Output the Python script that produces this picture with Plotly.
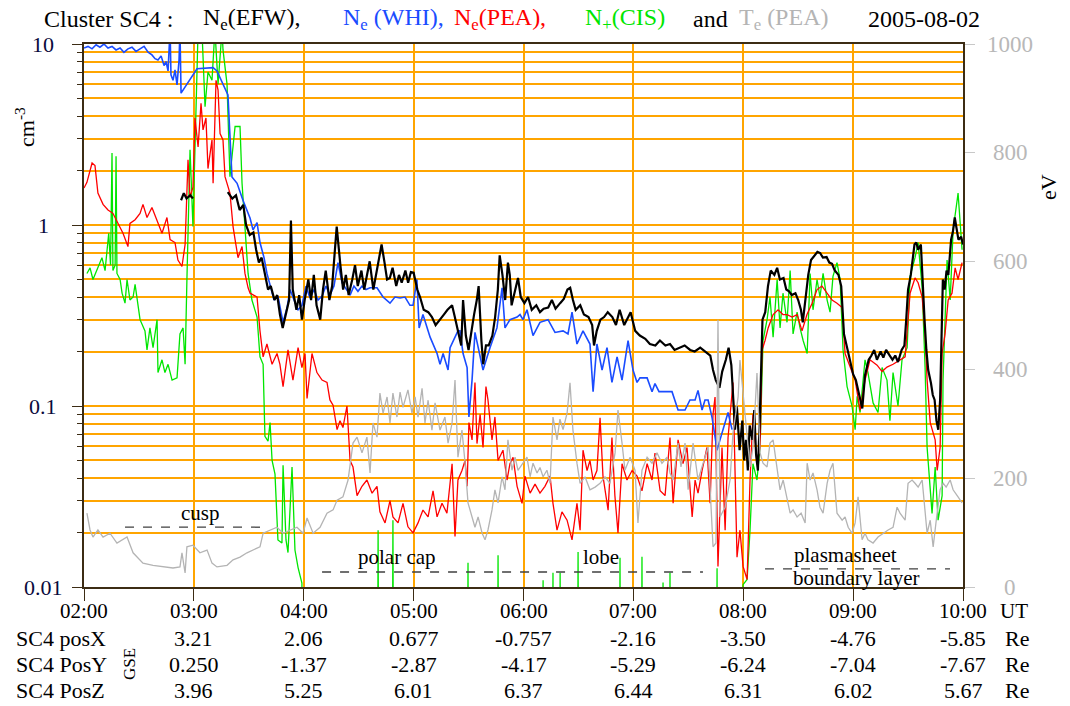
import numpy as np
import pandas as pd
import plotly.graph_objects as go

# Cluster SC4 densities and temperature, 2005-08-02, 02:00-10:00 UT
BASE = pd.Timestamp("2005-08-02 02:00")

COLOR_EFW = "#000000"
COLOR_WHI = "#1a4cff"
COLOR_PEA = "#ff0000"
COLOR_CIS = "#00e600"
COLOR_TE = "#b4b4b4"
COLOR_GRID = "#ffa500"
COLOR_AXIS = "#3c2c14"
FONT = "Liberation Serif, Times New Roman, serif"

# ---- data (time = minutes after 02:00 UT) ----
EFW_MIN = [53, 54.5, 56, 58, 59.5, 70, 78.5, 81, 83, 85, 87, 88.5, 90.5, 92.5, 94, 95.5, 97, 99, 100.5, 102,
           104, 105.5, 107, 108.5, 110.5, 112, 113, 114, 116, 117.5, 119, 120.5, 122.5, 124, 125.5, 127, 129,
           130.5, 132, 134, 135.5, 137, 138, 140, 141.5, 143, 144.5, 146.5, 148, 149.5, 151.5, 153, 154.5, 156,
           158, 159.5, 161, 162.5, 164, 165.5, 167, 168.5, 170.5, 172, 173.5, 175.5, 177, 178.5, 180, 182,
           183.5, 185.5, 188, 190, 192, 194.5, 196.5, 198.5, 201, 202.5, 204, 206, 207, 208.5, 210, 211.5, 213,
           214.5, 215.5, 217, 218, 219.5, 221, 223, 224.5, 226, 227, 228.5, 230, 231.5, 232.5, 233.5, 235.5,
           237, 238.5, 240.5, 242.5, 244.5, 247, 249, 251, 253.5, 255.5, 257.5, 260, 262, 264, 265.5, 267,
           268.5, 271, 273, 275.5, 277.5, 278.5, 280, 282, 284, 286, 288.5, 290.5, 292.5, 295, 297, 298.5, 301,
           303.5, 306.5, 309, 312, 314.5, 317.5, 320, 322.5, 325.5, 328, 331, 333.5, 336.5, 339, 342, 343.5,
           345, 347, 348.5, 350.5, 352, 353.5, 354.5, 355.5, 356.5, 358, 359.5, 360.5, 361.5, 362.5, 363.5, 365,
           366, 367, 368, 369, 370.5, 372, 373.5, 375, 377, 378.5, 380, 382, 383.5, 385, 386.5, 388.5, 390,
           391.5, 392.5, 394.5, 395.5, 397, 399, 400.5, 402, 403.5, 405.5, 407, 408.5, 410, 412, 413.5, 415,
           417, 418.5, 420, 421.5, 423.5, 425, 426.5, 428.5, 430, 431.5, 433, 435, 436.5, 438, 440, 441.5, 443,
           444.5, 446.5, 448, 449, 450, 451.5, 452.5, 453.5, 454.5, 455.5, 457, 458, 459, 460, 461, 462.5,
           463.5, 464.5, 465.5, 466.5, 467.5, 469, 470, 471, 472, 473.5, 474.5, 475.5, 476.5, 477.5, 479, 480]
EFW_NE = [1.37, 1.5, 1.4, 1.46, 1.4, None, 1.52, 1.4, 1.46, 1.21, 1.29, 1.0, 0.88, 0.91, 0.73, 0.62, 0.66, 0.53,
          0.44, 0.46, 0.385, 0.41, 0.32, 0.27, 0.33, 0.385, 1.06, 0.44, 0.34, 0.41, 0.30, 0.385, 0.5, 0.385, 0.53,
          0.36, 0.30, 0.44, 0.56, 0.385, 0.46, 0.73, 0.98, 0.6, 0.44, 0.53, 0.41, 0.5, 0.6, 0.46, 0.56, 0.44,
          0.53, 0.63, 0.44, 0.53, 0.63, 0.78, 0.63, 0.5, 0.51, 0.58, 0.46, 0.53, 0.48, 0.56, 0.48, 0.55, 0.545,
          0.44, 0.4, 0.34, 0.33, 0.31, 0.28, 0.30, 0.32, 0.34, 0.36, 0.31, 0.26, 0.216, 0.385, 0.245, 0.204,
          0.26, 0.32, 0.385, 0.46, 0.23, 0.17, 0.216, 0.216, 0.245, 0.31, 0.44, 0.68, 0.53, 0.385, 0.62, 0.53,
          0.36, 0.44, 0.51, 0.4, 0.37, 0.4, 0.34, 0.36, 0.33, 0.345, 0.35, 0.385, 0.345, 0.37, 0.39, 0.44, 0.45,
          0.385, 0.34, 0.36, 0.32, 0.31, 0.28, 0.216, 0.26, 0.30, 0.31, 0.33, 0.31, 0.28, 0.34, 0.28, 0.31, 0.33,
          0.26, 0.245, 0.235, 0.22, 0.216, 0.23, 0.216, 0.22, 0.204, 0.21, 0.216, 0.204, 0.2, 0.21, 0.2, 0.19,
          0.158, 0.139, 0.126, 0.155, 0.18, 0.21, 0.168, 0.108, 0.074, 0.1, 0.057, 0.083, 0.05, 0.065, 0.044,
          0.078, 0.065, 0.095, 0.054, 0.044, 0.083, 0.30, 0.33, 0.46, 0.56, 0.53, 0.58, 0.5, 0.51, 0.44, 0.43,
          0.41, 0.42, 0.385, 0.34, 0.29, 0.44, 0.53, 0.64, 0.68, 0.71, 0.7, 0.66, 0.665, 0.62, 0.61, 0.56, 0.53,
          0.46, 0.25, 0.204, 0.175, 0.15, 0.139, 0.115, 0.097, 0.148, 0.18, 0.19, 0.204, 0.18, 0.2, 0.185, 0.204,
          0.19, 0.18, 0.19, 0.175, 0.204, 0.216, 0.30, 0.44, 0.53, 0.64, 0.78, 0.8, 0.73, 0.78, 0.46, 0.30,
          0.204, 0.158, 0.134, 0.115, 0.108, 0.083, 0.074, 0.108, 0.5, 0.44, 0.56, 0.53, 0.83, 0.92, 1.1, 0.94,
          0.83, 0.86, 0.78]

WHI_MIN = [0, 2.2, 4.4, 6.6, 8.7, 10.9, 13.1, 15.3, 17.5, 19.7, 21.8, 24, 26.2, 28.4, 30.6, 32.8, 35, 37.1,
           38.8, 40.4, 42.1, 43.7, 44.8, 45.9, 47, 47.5, 48.6, 49.7, 50.8, 51.9, 52.4, 53, 61.7, 70.5, 72.6,
           78.6, 80.8, 83.6, 86.8, 90.7, 92.3, 94.5, 96.1, 98.3, 99.9, 101.6, 103.8, 105.9, 108.7, 110.9, 112.5,
           114.7, 116.9, 119, 121.2, 123.4, 125.6, 127.8, 130, 132.1, 134.3, 136.5, 138.7, 140.9, 143.1, 145.3,
           147.4, 149.6, 151.8, 154, 156.2, 160, 163.3, 167.1, 169.8, 172.6, 175.3, 178, 179.7, 181.8, 183,
           185.1, 189, 192.8, 194.4, 196.1, 198.8, 199.9, 204.2, 205.3, 207, 209.2, 210.2, 211.9, 213.5, 217.9,
           221.7, 225.5, 228.3, 229.9, 232.6, 236.5, 238.1, 239.7, 241.9, 245.2, 249, 253.4, 257.2, 261.6,
           264.3, 266.5, 269.2, 272.5, 276.3, 278, 280.1, 282.9, 285.6, 288.3, 291.1, 293.8, 297.1, 299.8, 302,
           303.6, 307.5, 310.2, 311.8, 314, 315.6, 318.4, 321.1, 324.4, 328.2, 330.9, 333.7, 335.3, 337.5,
           339.1, 340.8, 343, 345.7, 347.3, 350.1, 351.7, 353.9]
WHI_NE = [9.5, 9.7, 9.4, 9.9, 9.6, 10, 9.5, 9.7, 9.27, 9.5, 9.0, 9.4, 9.6, 9.1, 9.4, 9.7, 9.0, 8.7, 8.3, 8.16,
          8.6, 7.6, 8.0, 7.1, 12, 6.75, 6.3, 7.2, 5.94, 8.16, 12, 5.35, 7.3, 7.4, 7.1, 5.23, 1.84, 1.7, 1.37,
          1.09, 0.94, 1.03, 0.8, 0.66, 0.54, 0.46, 0.385, 0.405, 0.29, 0.35, 0.44, 0.385, 0.34, 0.36, 0.46,
          0.395, 0.44, 0.385, 0.405, 0.46, 0.41, 0.46, 0.62, 0.48, 0.44, 0.41, 0.46, 0.43, 0.46, 0.44, 0.45,
          0.45, 0.4, 0.37, 0.4, 0.395, 0.4, 0.36, 0.36, 0.5, 0.27, 0.32, 0.24, 0.195, 0.17, 0.195, 0.158, 0.21,
          0.26, 0.26, 0.195, 0.163, 0.087, 0.139, 0.255, 0.158, 0.21, 0.27, 0.45, 0.27, 0.3, 0.31, 0.32, 0.3,
          0.34, 0.245, 0.29, 0.3, 0.255, 0.26, 0.25, 0.33, 0.22, 0.26, 0.22, 0.12, 0.22, 0.158, 0.21, 0.135,
          0.187, 0.139, 0.23, 0.158, 0.135, 0.143, 0.143, 0.12, 0.133, 0.12, 0.12, 0.12, 0.12, 0.095, 0.095,
          0.108, 0.108, 0.122, 0.095, 0.108, 0.108, 0.086, 0.057, 0.065, 0.083, 0.092, 0.074]

PEA_MIN = [0, 1.6, 4.4, 6, 7.6, 10.4, 13.1, 15.8, 18.6, 21.3, 24, 25.1, 27.9, 30.6, 32.2, 34.4, 37.1, 39.9,
           42.6, 45.3, 47, 49.7, 51.3, 53.5, 55.2, 56.8, 57.9, 59.5, 60.6, 62.3, 63.9, 65, 66.6, 67.7, 69.9,
           70.5, 72.1, 73.2, 74.3, 75.9, 77, 79.7, 81.4, 82.5, 84.1, 86.3, 87.9, 89.6, 90.7, 94.5, 96.1, 97.8,
           99.9, 102.7, 105.4, 107, 108.7, 111.4, 114.1, 116.9, 119, 120.7, 121.8, 124.5, 127.2, 130, 132.7,
           134.3, 136, 138.2, 139.8, 141.4, 143.6, 145.3, 146.9, 149.1, 151.8, 154.5, 157.3, 160, 161.6, 164.4,
           167.1, 168.7, 171.5, 174.2, 176.9, 179.7, 182.4, 185.1, 187.9, 190.6, 192.8, 195.5, 198.2, 201,
           202.6, 204.2, 206.4, 208.1, 209.2, 210.2, 211.9, 213.5, 214.6, 216.3, 217.9, 219.5, 220.6, 222.8,
           224.4, 226.1, 228.8, 231, 232.6, 234.3, 236.5, 239.2, 240.8, 243.6, 246.3, 249, 251.7, 254.5, 256.1,
           258.3, 261, 263.8, 266.5, 269.2, 270.9, 272.5, 274.7, 276.3, 278, 280.1, 281.8, 283.4, 286.2, 288.3,
           289.9, 291.6, 293.8, 296.5, 299.3, 302, 304.7, 307.5, 310.2, 311.8, 314.6, 317.3, 320, 321.7, 324.4,
           327.1, 329.3, 332.1, 333.7, 335.3, 337.5, 340.2, 341.9, 343.5, 344.6, 346.2, 348.4, 350.1, 351.7,
           354.4, 356.6, 358.2, 359.9, 362.1, 363.7, 365.3, 367.5, 369.2, 370.3, 371.9, 373.6, 376.3, 379,
           381.7, 383.9, 386.7, 389.4, 392.1, 394.8, 397.6, 400.3, 403, 405.8, 408.5, 411.2, 414, 415.6, 418.3,
           421.1, 423.8, 426.5, 429.2, 433.1, 435.8, 438.5, 441.8, 445.6, 448.4, 451.1, 453.8, 455.5, 457.7,
           459.3, 460.4, 462.1, 464.8, 465.9, 467.5, 468.6, 470.2, 471.9, 474, 475.7, 477.3, 479.5]
PEA_NE = [1.6, 1.72, 2.2, 2.13, 1.5, 1.3, 1.21, 1.16, 1.02, 0.9, 0.76, 1.02, 1.07, 1.16, 1.3, 1.1, 1.25, 1.07,
          0.9, 1.1, 0.83, 0.8, 0.64, 0.59, 0.78, 2.29, 1.42, 1.62, 3.9, 2.7, 4.7, 3.35, 3.9, 2.05, 2.95, 1.7,
          6.3, 5.57, 3.2, 2.95, 1.85, 1.5, 0.98, 0.83, 0.66, 0.76, 0.54, 0.45, 0.42, 0.4, 0.26, 0.187, 0.22,
          0.17, 0.195, 0.17, 0.128, 0.204, 0.139, 0.21, 0.163, 0.195, 0.11, 0.195, 0.153, 0.139, 0.135, 0.108,
          0.101, 0.074, 0.083, 0.076, 0.1, 0.05, 0.046, 0.032, 0.036, 0.039, 0.033, 0.036, 0.026, 0.0226, 0.03,
          0.0244, 0.0226, 0.029, 0.0215, 0.0199, 0.0226, 0.0266, 0.0244, 0.034, 0.0244, 0.029, 0.0256, 0.048,
          0.019, 0.039, 0.044, 0.05, 0.036, 0.081, 0.065, 0.135, 0.062, 0.09, 0.059, 0.128, 0.108, 0.065, 0.087,
          0.05, 0.057, 0.039, 0.048, 0.052, 0.036, 0.029, 0.041, 0.033, 0.037, 0.033, 0.036, 0.041, 0.029,
          0.0206, 0.026, 0.0234, 0.0182, 0.029, 0.0206, 0.057, 0.044, 0.05, 0.039, 0.044, 0.086, 0.041, 0.0266,
          0.067, 0.032, 0.0199, 0.048, 0.039, 0.044, 0.041, 0.034, 0.048, 0.039, 0.055, 0.034, 0.032, 0.067,
          0.029, 0.065, 0.048, 0.059, 0.0244, 0.039, 0.033, 0.044, 0.059, 0.029, 0.09, 0.112, 0.013, 0.059,
          0.0206, 0.067, 0.135, 0.0146, 0.0206, 0.013, 0.011, 0.039, 0.09, 0.048, 0.059, 0.204, 0.23, 0.27,
          0.32, 0.34, 0.32, 0.32, 0.31, 0.32, 0.26, 0.32, 0.37, 0.44, 0.46, 0.42, 0.385, 0.37, 0.35, 0.195,
          0.164, 0.139, 0.095, 0.139, 0.18, 0.168, 0.155, 0.164, 0.17, 0.18, 0.187, 0.42, 0.51, 0.48, 0.4, 0.25,
          0.139, 0.081, 0.065, 0.044, 0.059, 0.195, 0.25, 0.385, 0.42, 0.58, 0.5, 0.62]

# 0.001 = below the axis floor (no ions counted)
CIS_MIN = [1.6, 3.3, 4.9, 7.6, 9.8, 11.5, 13.5, 14.5, 15.3, 15.8, 17, 17.5, 18, 19.7, 20.8, 22.4, 23.5, 25.1,
           26.8, 27.9, 30.6, 33.3, 34.4, 36, 37.7, 39.9, 40.4, 42.6, 44.2, 45.9, 48.1, 50.8, 52.4, 54.1, 55.2,
           56.2, 57.9, 59.5, 61.7, 62.3, 64.4, 66.1, 67.7, 69.9, 71.5, 73.2, 75.4, 75.9, 78.1, 79.7, 82.5, 85.2,
           86.3, 87.9, 89.6, 91.7, 94.5, 96.1, 97.8, 98.8, 100.5, 101.6, 102.7, 104.3, 105.9, 108.1, 108.7,
           110.3, 111.4, 113.6, 115.2, 116.9, 119, 119.6,
           160.2, 160.6, 161, 168.3, 168.7, 169.1, 209.3, 209.7, 210.1, 225.7, 226.1, 226.5, 250.3, 250.7,
           251.1, 255.7, 256.1, 256.5, 259.6, 260, 260.4, 269.4, 269.8, 270.2, 292.3, 292.7, 293.1, 304.3,
           304.7, 305.1, 315.8, 316.2, 316.6, 319.6, 320, 320.4, 345.3, 345.7, 346.1,
           358.2, 359.9, 362.1, 363.7, 365.3, 367.5, 369.2, 370.3, 370.8, 373, 374.6, 376.3, 378.5, 380.1,
           381.7, 383.9, 385.6, 387.2, 389.4, 391, 392.7, 394.9, 396.5, 398.1, 400.3, 401.9, 403.6, 405.8,
           407.4, 409, 411.2, 412.9, 414.5, 416.7, 419.4, 421.1, 422.2, 423.8, 426.5, 428.1, 430.9, 433.6,
           435.8, 438.5, 440.1, 441.8, 444.5, 446.7, 449.5, 451.1, 453.8, 455.5, 457.7, 459.3, 460.4, 463.1,
           464.8, 466.4, 468.6, 469.1, 471.3, 473, 474.6, 476.8, 477.3, 479.5]
CIS_NP = [0.54, 0.58, 0.5, 0.59, 0.66, 0.56, 0.9, 0.6, 2.5, 0.56, 0.6, 2.4, 0.54, 0.5, 0.42, 0.37, 0.5, 0.385,
          0.4, 0.47, 0.3, 0.26, 0.204, 0.27, 0.21, 0.3, 0.153, 0.18, 0.153, 0.17, 0.139, 0.143, 0.25, 0.27, 0.17,
          0.5, 2.6, 0.98, 8.2, 12, 12, 4.5, 7, 6.3, 12, 6.0, 12, 9.3, 6.0, 1.85, 3.5, 3.5, 1.7, 1.02, 0.54,
          0.385, 0.31, 0.187, 0.17, 0.068, 0.064, 0.081, 0.05, 0.042, 0.0182, 0.0175, 0.047, 0.0182, 0.0155,
          0.046, 0.016, 0.0128, 0.0105, 0.001,
          0.001, 0.0206, 0.001, 0.001, 0.0234, 0.001, 0.001, 0.0136, 0.001, 0.001, 0.015, 0.001, 0.001, 0.0109,
          0.001, 0.001, 0.012, 0.001, 0.001, 0.012, 0.001, 0.001, 0.0156, 0.001, 0.001, 0.0145, 0.001, 0.001,
          0.0147, 0.001, 0.001, 0.0106, 0.001, 0.001, 0.012, 0.001, 0.001, 0.0127, 0.001,
          0.001, 0.0103, 0.011, 0.0206, 0.048, 0.039, 0.06, 0.195, 0.23, 0.3, 0.4, 0.24, 0.5, 0.27, 0.42, 0.29,
          0.56, 0.25, 0.33, 0.27, 0.23, 0.195, 0.54, 0.34, 0.5, 0.4, 0.54, 0.385, 0.33, 0.52, 0.62, 0.5, 0.204,
          0.128, 0.1, 0.074, 0.113, 0.092, 0.18, 0.153, 0.104, 0.092, 0.163, 0.139, 0.083, 0.153, 0.1, 0.18,
          0.21, 0.52, 0.66, 0.8, 0.45, 0.163, 0.059, 0.0255, 0.046, 0.0234, 0.032, 0.139, 0.64, 0.385, 0.94,
          1.37, 1.5, 0.73]

TE_MIN = [1.6, 3.3, 4.9, 7.6, 10.4, 14.2, 18, 23.5, 26.8, 32.2, 37.7, 43.1, 48.6, 52.4, 53.5, 55.2, 56.2, 59.5,
          63.3, 67.2, 69.9, 72.6, 78.1, 81.4, 85.2, 89, 92.3, 96.1, 97.8, 101.6, 105.4, 108.7, 112.5, 116.3,
          119.6, 121.8, 125.1, 128.9, 132.7, 136, 138.2, 141.4, 144.2, 146.9, 149.1, 151.8, 154.5, 156.2,
          157.8, 160, 161.6, 163.3, 165.5, 167.1, 168.7, 170.9, 172.6, 174.2, 176.9, 179.1, 180.8, 182.4,
          184.6, 186.2, 187.9, 190, 191.7, 194.4, 197.1, 198.8, 201, 202.6, 204.2, 206.4, 208.1, 209.7, 211.9,
          213.5, 215.2, 217.4, 219, 220.6, 222.8, 224.4, 226.1, 228.3, 229.9, 231.5, 233.7, 235.4, 237, 239.7,
          241.9, 243.6, 245.2, 247.4, 249, 250.7, 252.8, 254.5, 256.1, 258.3, 259.9, 261.6, 263.8, 265.4, 267,
          269.2, 270.9, 273.6, 276.3, 279.1, 281.8, 284.5, 287.2, 290, 291.6, 293.8, 295.4, 298.2, 300.9,
          302.5, 304.7, 307.5, 310.2, 312.9, 315.6, 318.4, 320, 321.7, 324.4, 326, 328.2, 329.9, 332.6, 335.3,
          338, 340.8, 343.5, 345.1, 346.2, 347.3, 350.1, 352.8, 354.4, 357.2, 358.2, 359.3, 361, 363.7, 365.3,
          367.5, 369.2, 370.8, 373, 374.6, 376.3, 378.5, 380.1, 381.8, 383.9, 385.6, 387.2, 389.4, 391.6,
          393.8, 394.9, 396.5, 398.1, 400.3, 401.9, 403.6, 405.8, 407.4, 409, 410.1, 411.2, 414, 415.6, 417.3,
          419.4, 421.1, 422.7, 424.9, 426.5, 428.1, 430.9, 433.6, 436.4, 439.1, 441.8, 444, 445.6, 448.4, 450,
          452.2, 453.8, 455.5, 457.7, 459.3, 460.4, 462.1, 463.7, 465.4, 467.5, 469.2, 470.8, 473, 474.6,
          477.3, 479.5]
TE_EV = [136, 105, 92, 105, 92, 99, 81, 92, 63, 44, 40, 37, 35, 37, 63, 26, 74, 77, 63, 68, 44, 37, 40, 50, 55,
         63, 68, 74, 99, 105, 110, 99, 105, 110, 99, 127, 99, 110, 136, 142, 160, 166, 197, 265, 276, 247, 276,
         210, 302, 276, 357, 320, 350, 302, 357, 313, 359, 331, 363, 320, 350, 313, 366, 302, 344, 289, 339,
         289, 313, 265, 302, 381, 239, 289, 228, 155, 129, 110, 129, 99, 87, 105, 142, 179, 155, 203, 179, 271,
         215, 239, 215, 228, 239, 203, 228, 210, 220, 203, 215, 191, 313, 271, 309, 290, 320, 376, 289, 228,
         191, 203, 179, 184, 191, 203, 191, 247, 326, 265, 215, 239, 215, 118, 215, 239, 228, 247, 228, 239,
         210, 197, 265, 221, 265, 179, 265, 197, 228, 258, 74, 81, 492, 129, 147, 197, 284, 350, 418, 381, 320,
         221, 258, 394, 247, 228, 221, 265, 271, 221, 179, 197, 160, 136, 142, 129, 136, 118, 228, 197, 210,
         179, 147, 136, 191, 215, 228, 184, 136, 123, 129, 110, 99, 118, 166, 87, 99, 87, 81, 92, 99, 105, 110,
         147, 136, 123, 191, 197, 191, 184, 197, 136, 99, 123, 74, 123, 179, 191, 184, 197, 179, 166, 155]

# region labels: (text lines, start min, end min, dash level, label centre min, label level)
REGIONS = [
    (["cusp"], 22.4, 99.9, 0.0214, [63.4], [0.0256]),
    (["polar cap", "lobe"], 130, 338, 0.0121, [171, 282.3], [0.0147, 0.0147]),
    (["plasmasheet", "boundary layer"], 371.9, 472.9, 0.0126, [415.6, 422], [0.0150, 0.0112]),
]

HOURS = list(range(2, 11))
HOUR_LABELS = ["02:00", "03:00", "04:00", "05:00", "06:00", "07:00", "08:00", "09:00", "10:00"]
POS_ROWS = ["SC4 posX", "SC4 PosY", "SC4 PosZ"]
POS_X = ["3.21", "2.06", "0.677", "-0.757", "-2.16", "-3.50", "-4.76", "-5.85"]
POS_Y = ["0.250", "-1.37", "-2.87", "-4.17", "-5.29", "-6.24", "-7.04", "-7.67"]
POS_Z = ["3.96", "5.25", "6.01", "6.37", "6.44", "6.31", "6.02", "5.67"]

NE_MAJOR = [0.01, 0.1, 1, 10]
NE_MAJOR_TEXT = ["0.01", "0.1", "1", "10"]
TE_TICKS = [0, 200, 400, 600, 800, 1000]


def to_time(minutes):
    return BASE + pd.to_timedelta(minutes, unit="min")


def px_x(px):
    # pixel -> paper x (plot area spans 84..963)
    return (px - 84) / 879


def px_y(py):
    # pixel -> paper y (plot area spans 44..587)
    return (587 - py) / 543


def text(fig, x, y, s, size, color="black", xref="paper", yref="paper", xanchor="center", angle=0):
    fig.add_annotation(x=x, y=y, xref=xref, yref=yref, text=s, showarrow=False,
                       xanchor=xanchor, yanchor="middle", textangle=angle,
                       font=dict(size=size, color=color, family=FONT))


fig = go.Figure()

fig.add_trace(go.Scatter(x=to_time(TE_MIN), y=TE_EV, yaxis="y2", mode="lines",
                         line=dict(color=COLOR_TE, width=1.3)))
fig.add_trace(go.Scatter(x=to_time(CIS_MIN), y=CIS_NP, mode="lines",
                         line=dict(color=COLOR_CIS, width=1.3)))
fig.add_trace(go.Scatter(x=to_time(PEA_MIN), y=PEA_NE, mode="lines",
                         line=dict(color=COLOR_PEA, width=1.3)))
fig.add_trace(go.Scatter(x=to_time(WHI_MIN), y=WHI_NE, mode="lines",
                         line=dict(color=COLOR_WHI, width=1.6)))
fig.add_trace(go.Scatter(x=to_time(EFW_MIN), y=EFW_NE, mode="lines",
                         line=dict(color=COLOR_EFW, width=2.2)))

# region markers: dashed bars with labels
for texts, t0, t1, level, tx, ty in REGIONS:
    fig.add_trace(go.Scatter(x=to_time([t0, t1]), y=[level, level], mode="lines",
                             line=dict(color="#404040", width=1.3, dash="dash")))
    for txt, m, lv in zip(texts, tx, ty):
        text(fig, to_time(m), np.log10(lv), txt, 21, xref="x", yref="y")

# title pieces
title_parts = [
    ("Cluster SC4 :", 42, "black"),
    ("N<sub>e</sub>(EFW),", 201, "black"),
    ("N<sub>e</sub> (WHI),", 341, COLOR_WHI),
    ("N<sub>e</sub>(PEA),", 452, COLOR_PEA),
    ("N<sub>+</sub>(CIS)", 583, COLOR_CIS),
    ("and", 691, "black"),
    ("T<sub>e</sub> (PEA)", 737, COLOR_TE),
    ("2005-08-02", 866, "black"),
]
for txt, px, col in title_parts:
    text(fig, px_x(px), px_y(19), txt, 24, color=col, xanchor="left")

# centred tick labels on both vertical axes
for v, t in zip(NE_MAJOR, NE_MAJOR_TEXT):
    text(fig, px_x(43), np.log10(v), t, 22, color="#0a0a3c", yref="y")
for v in TE_TICKS:
    text(fig, px_x(1010), v, str(v), 23, color="#b8b8b8", yref="y2")

text(fig, px_x(25), px_y(127), "cm<sup>-3</sup>", 22, angle=-90)
text(fig, px_x(1048), px_y(187), "eV", 22, angle=-90)

# time labels and the spacecraft position table under the axis
for h, lab in zip(HOURS, HOUR_LABELS):
    text(fig, BASE + pd.Timedelta(hours=h - 2), px_y(611), lab, 21, xref="x")
text(fig, px_x(998), px_y(611), "UT", 21, xanchor="left")

row_y = [px_y(638), px_y(664), px_y(690)]
for name, vals, ry in zip(POS_ROWS, [POS_X, POS_Y, POS_Z], row_y):
    text(fig, px_x(14), ry, name, 22, xanchor="left")
    for h, val in zip(HOURS[1:], vals):
        text(fig, BASE + pd.Timedelta(hours=h - 2), ry, val, 22, xref="x")
    text(fig, px_x(1003), ry, "Re", 22, xanchor="left")
text(fig, px_x(129), px_y(664), "GSE", 17, angle=-90)

minor_vals = [m * d for d in [0.01, 0.1, 1] for m in range(2, 10)]

fig.update_layout(
    width=1070, height=706,
    margin=dict(l=84, r=107, t=44, b=119),
    paper_bgcolor="white", plot_bgcolor="white",
    showlegend=False,
    font=dict(family=FONT, color="black"),
    xaxis=dict(
        type="date",
        range=[BASE, BASE + pd.Timedelta(hours=8)],
        tickvals=[BASE + pd.Timedelta(hours=h - 2) for h in HOURS],
        showticklabels=False,
        ticks="outside", ticklen=12, tickcolor=COLOR_AXIS,
        showgrid=True, gridcolor=COLOR_GRID, gridwidth=1.5,
        showline=True, linecolor=COLOR_AXIS, linewidth=1.5, mirror=True,
        zeroline=False,
    ),
    yaxis=dict(
        type="log", range=[-2, 1],
        tickvals=NE_MAJOR, showticklabels=False,
        ticks="outside", ticklen=10, tickcolor=COLOR_AXIS,
        showgrid=True, gridcolor=COLOR_GRID, gridwidth=1.5,
        minor=dict(tickvals=minor_vals, ticks="outside", ticklen=5, tickcolor=COLOR_AXIS,
                   showgrid=True, gridcolor=COLOR_GRID, gridwidth=1.5),
        showline=True, linecolor=COLOR_AXIS, linewidth=2,
        zeroline=False,
    ),
    yaxis2=dict(
        overlaying="y", side="right", range=[0, 1000],
        tickvals=TE_TICKS, showticklabels=False,
        ticks="outside", ticklen=10, tickcolor="#c8c8c8",
        showgrid=False, zeroline=False,
        showline=True, linecolor=COLOR_AXIS, linewidth=2,
    ),
)

# drop the default page margin so the 1070x706 figure fills the window exactly
fig.write_html("out.html", config={"displayModeBar": False},
               post_script="document.body.style.margin = '0';")
